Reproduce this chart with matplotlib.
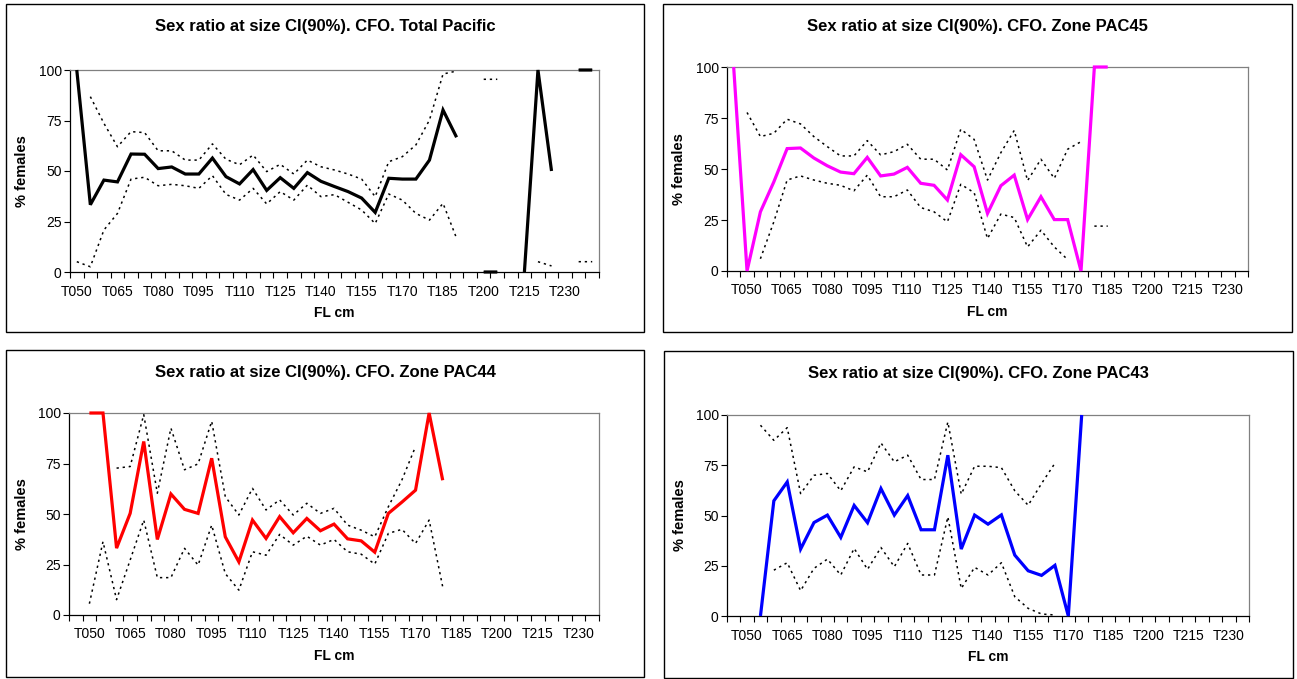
import numpy as np
import matplotlib
matplotlib.use('Agg')
import matplotlib.pyplot as plt
from matplotlib.patches import Rectangle

plt.rcParams['font.family'] = ['Liberation Sans', 'DejaVu Sans']

nan = np.nan

# size classes (FL cm)
cats_total = ['T%03d' % v for v in range(50, 241, 5)]
cats_zone = ['T%03d' % v for v in range(45, 236, 5)]

# Total Pacific
total_mid = [100, 33.3, 45.5, 44.6, 58.4, 58.3, 51.2, 52.0, 48.5, 48.5, 56.4, 47.2, 43.6,
             50.7, 40.4, 46.7, 41.4, 49.2, 44.9, 42.3, 39.8, 36.6, 29.5, 46.4, 46.0, 46.0,
             55.4, 80.2, 66.7, nan, 0, 0, nan, 0, 100, 50, nan, 100, 100]
total_hi = [nan, 86.8, 73.6, 62.0, 69.5, 69.0, 60.0, 60.0, 55.4, 55.4, 63.4, 55.8, 53.1,
            57.9, 49.7, 53.3, 48.5, 55.4, 52.1, 50.5, 48.5, 46.0, 37.3, 54.6, 57.1, 62.9,
            75.2, 98.0, 99.5, nan, 95.4, 95.4, nan, nan, nan, nan, nan, 100, 100]
total_lo = [5.1, 2.6, 20.8, 29.0, 46.0, 46.9, 42.7, 43.4, 42.7, 41.4, 47.7, 38.4, 35.6,
            41.4, 33.7, 39.8, 35.6, 43.0, 37.3, 38.3, 34.5, 30.7, 24.0, 38.6, 35.6, 29.0,
            25.7, 34.0, 16.7, nan, 0, 0, nan, nan, 5.1, 3.0, nan, 5.1, 5.1]

# Zone PAC45
pac45_mid = [100, 0, 29.0, 43.6, 60.0, 60.3, 55.4, 51.6, 48.5, 47.7, 55.7, 46.6, 47.5,
             50.8, 43.0, 42.0, 34.8, 57.0, 51.1, 28.2, 41.8, 47.0, 25.2, 36.4, 25.2, 25.2,
             0, 100, 100] + [nan] * 10
pac45_hi = [nan, 77.7, 65.9, 67.5, 74.4, 72.1, 65.9, 61.0, 56.4, 56.4, 63.9, 56.9, 58.5,
            62.1, 54.8, 54.8, 49.5, 69.5, 64.5, 44.6, 58.0, 68.9, 44.3, 54.8, 45.4, 59.7,
            63.4, nan, nan] + [nan] * 10
pac45_lo = [nan, nan, 6.0, 24.0, 44.6, 46.6, 44.6, 43.0, 42.0, 39.3, 47.0, 36.4, 36.4,
            39.7, 31.1, 29.0, 24.1, 42.5, 38.4, 15.9, 27.9, 26.2, 11.8, 20.0, 11.8, 5.6,
            nan, 22.0, 22.0] + [nan] * 10

# Zone PAC44
pac44_mid = [nan, 100, 100, 33.1, 50.3, 85.9, 37.4, 59.9, 52.3, 50.3, 77.6, 38.7, 26.3,
             47.0, 37.9, 48.7, 40.7, 47.8, 41.7, 45.0, 37.7, 36.7, 31.1, 50.3, 55.9, 61.8,
             100, 66.7] + [nan] * 11
pac44_hi = [nan, nan, nan, 72.7, 73.5, 99.2, 60.3, 92.5, 71.9, 74.8, 95.9, 58.6, 49.5,
            62.7, 52.0, 57.0, 49.5, 55.3, 50.3, 52.8, 44.5, 42.0, 38.7, 53.6, 66.9, 83.4,
            nan, nan] + [nan] * 11
pac44_lo = [nan, 5.6, 36.3, 7.6, 27.2, 47.0, 18.5, 18.5, 33.0, 24.7, 44.5, 20.5, 12.3,
            31.3, 29.6, 39.9, 34.6, 39.0, 34.6, 37.4, 31.3, 30.1, 25.2, 40.4, 42.4, 35.4,
            47.0, 13.9] + [nan] * 11

# Zone PAC43
pac43_mid = [nan, nan, 0, 57.3, 66.7, 33.3, 46.5, 50.2, 39.1, 55.0, 46.4, 63.4, 50.2,
             59.9, 42.9, 42.9, 80.0, 33.3, 50.2, 45.7, 50.3, 30.3, 22.5, 20.2, 25.2, 0,
             100] + [nan] * 12
pac43_hi = [nan, nan, 94.9, 87.4, 93.7, 60.9, 70.0, 70.9, 62.3, 74.2, 71.7, 86.1, 76.7,
            80.0, 67.9, 67.9, 96.5, 60.6, 74.5, 74.5, 73.8, 62.3, 55.1, 65.9, 76.0, nan,
            nan] + [nan] * 12
pac43_lo = [nan, nan, nan, 22.8, 26.5, 12.6, 23.7, 28.3, 20.4, 33.6, 23.2, 34.1, 24.5,
            36.1, 20.4, 20.4, 49.3, 13.7, 24.2, 20.4, 26.5, 9.6, 3.8, 1.0, 0.5, nan,
            nan] + [nan] * 12

W, H = 1297, 679
fig = plt.figure(figsize=(W / 100, H / 100), dpi=100)
fig.patch.set_facecolor('white')


def fx(x):
    return x / W


def fy(y):
    return 1 - y / H


def panel(box, area, title, cats, first_lab, mid, hi, lo, color):
    # outer chart frame
    x0, y0, x1, y1 = box
    fig.patches.append(Rectangle((fx(x0), fy(y1)), fx(x1 - x0), (y1 - y0) / H,
                                 transform=fig.transFigure, fill=False,
                                 edgecolor='black', lw=1.0))
    fig.text(fx((x0 + x1) / 2), fy(y0 + 22), title, ha='center', va='center',
             fontsize=12, fontweight='bold')

    a0, b0, a1, b1 = area
    ax = fig.add_axes([fx(a0), fy(b1), fx(a1 - a0), (b1 - b0) / H])
    n = len(cats)
    x = np.arange(n)
    ls_dot = (0, (1.5, 2.5))
    ax.plot(x, hi, color='black', lw=1.1, linestyle=ls_dot, clip_on=False, zorder=2)
    ax.plot(x, lo, color='black', lw=1.1, linestyle=ls_dot, clip_on=False, zorder=2)
    ax.plot(x, mid, color=color, lw=2.3, clip_on=False, zorder=3,
            solid_joinstyle='miter', solid_capstyle='butt')

    ax.set_xlim(-0.5, n - 0.5)
    ax.set_ylim(0, 100)
    ax.set_yticks([0, 25, 50, 75, 100])
    ax.tick_params(axis='y', direction='out', length=4, width=0.8, pad=2, labelsize=10)

    ax.set_xticks(np.arange(-0.5, n, 1))
    ax.set_xticklabels([])
    ax.tick_params(axis='x', which='major', direction='out', length=4, width=0.8)
    lab_pos = list(range(first_lab, n, 3))
    ax.set_xticks(lab_pos, minor=True)
    ax.set_xticklabels([cats[i] for i in lab_pos], minor=True)
    ax.tick_params(axis='x', which='minor', length=0, pad=9, labelsize=10)

    for s in ['top', 'right']:
        ax.spines[s].set_color('#808080')
    for s in ['left', 'bottom']:
        ax.spines[s].set_color('black')
    for s in ax.spines.values():
        s.set_linewidth(0.9)

    fig.text(fx(x0 + 16), fy((b0 + b1) / 2), '% females', rotation=90, ha='center',
             va='center', fontsize=10.5, fontweight='bold')
    fig.text(fx((a0 + a1) / 2), fy(b1 + 41), 'FL cm', ha='center', va='center',
             fontsize=10, fontweight='bold')
    return ax


panel((6, 4, 644, 332), (70, 70, 599, 272),
      'Sex ratio at size CI(90%). CFO. Total Pacific', cats_total, 0,
      total_mid, total_hi, total_lo, 'black')
panel((663, 4, 1292, 332), (727, 67, 1248, 271),
      'Sex ratio at size CI(90%). CFO. Zone PAC45', cats_zone, 1,
      pac45_mid, pac45_hi, pac45_lo, '#FF00FF')
panel((6, 350, 644, 677), (69, 413, 599, 615),
      'Sex ratio at size CI(90%). CFO. Zone PAC44', cats_zone, 1,
      pac44_mid, pac44_hi, pac44_lo, '#FF0000')
panel((664, 351, 1293, 678), (727, 415, 1249, 616),
      'Sex ratio at size CI(90%). CFO. Zone PAC43', cats_zone, 1,
      pac43_mid, pac43_hi, pac43_lo, '#0000FF')

fig.savefig('out.png', dpi=100)
